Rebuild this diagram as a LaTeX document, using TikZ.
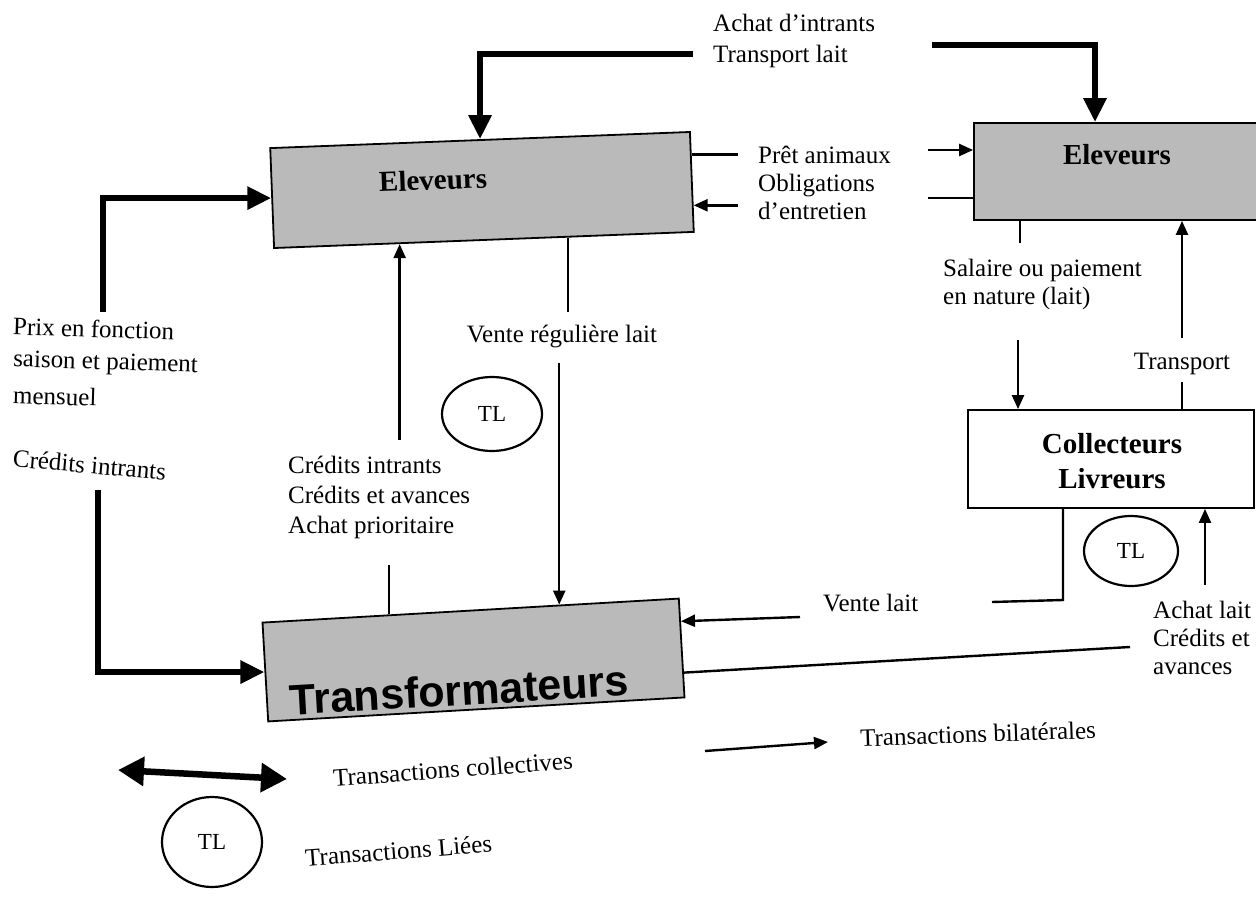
\documentclass[tikz,border=0pt]{standalone}
\usepackage{fontspec}
\setmainfont{Liberation Serif}
\newfontfamily\sansbold{Liberation Sans}
\usetikzlibrary{arrows.meta,calc,shapes.geometric}
\definecolor{boxgray}{RGB}{186,186,186}
\newcommand\labfont{\fontsize{25}{31}\selectfont}
\newcommand\labfontb{\fontsize{25}{28}\selectfont}
\newcommand\boxfont{\fontsize{29}{35}\selectfont\bfseries}
\begin{document}
\begin{tikzpicture}[x=1pt,y=1pt,
  conn/.style={line width=2.4pt},
  arr/.style={conn,-{Triangle[length=14pt,width=12pt]}},
  bigarr/.style={line width=6pt,-{Triangle[length=24pt,width=22pt]}},
  dblarr/.style={line width=6.5pt,{Triangle[length=26pt,width=28pt]}-{Triangle[length=26pt,width=28pt]}},
  box/.style={draw,line width=1.8pt,fill=boxgray,inner sep=0pt},
  lbl/.style={font=\labfont,align=left,inner sep=0pt},
  tl/.style={ellipse,draw,line width=2.2pt,inner sep=0pt,font=\fontsize{23}{26}\selectfont}
]
\useasboundingbox (0,-899) rectangle (1256,0);
\fill[white] (0,-899) rectangle (1256,0);

% boxes
\node[box,minimum width=420,minimum height=100,rotate=2.2] (E1) at (482,-190) {};
\node[font=\boxfont,rotate=2.2] (E1t) at (433,-180) {Eleveurs};
\node[box,minimum width=300,minimum height=97] (E2) at (1124,-171.5) {};
\node[font=\boxfont] (E2t) at (1117,-155) {Eleveurs};
\node[box,fill=white,minimum width=286,minimum height=98] (C) at (1111,-459) {};
\node[font=\boxfont,align=center] (Ct) at (1112,-461) {Collecteurs\\Livreurs};
\node[box,minimum width=417,minimum height=99,rotate=3.3] (T) at (473.5,-660) {};
\node[font=\fontsize{43}{48}\selectfont\sansbold\bfseries,rotate=3.3] (Tt) at (459,-690) {Transformateurs};

% TL ellipses
\node[tl,minimum width=100,minimum height=74] (TLm) at (492,-414) {TL};
\node[tl,minimum width=94,minimum height=70] (TLr) at (1131,-551) {TL};
\node[tl,minimum width=100,minimum height=90] (TLl) at (212,-842) {TL};

% labels
\node[lbl,anchor=north west] (Lachat) at (713,-14) {Achat d’intrants\\Transport lait};
\node[lbl,anchor=north west,font=\labfontb] (Lpret) at (758,-146) {Prêt animaux\\Obligations\\d’entretien};
\node[lbl,anchor=north west,font=\labfontb] (Lsal) at (943,-259) {Salaire ou paiement\\en nature (lait)};
\node[lbl] (Ltrans) at (1182,-364) {Transport};
\node[lbl,anchor=west] (Lvl) at (823,-603) {Vente lait};
\node[lbl,anchor=north west,font=\labfontb] (Lal) at (1153,-601) {Achat lait\\Crédits et\\avances};
\node[lbl,anchor=north west,font=\fontsize{25}{30}\selectfont] (Lcred) at (288,-456) {Crédits intrants\\Crédits et avances\\Achat prioritaire};
\node[lbl] (Lvrl) at (562,-337) {Vente régulière lait};
\node[lbl,anchor=west,rotate=-1.8] (Lprix1) at (13,-326) {Prix en fonction};
\node[lbl,anchor=west,rotate=-1.8] (Lprix2) at (13,-361) {saison et paiement};
\node[lbl,anchor=west,rotate=-1.8] (Lprix3) at (13,-395) {mensuel};
\node[lbl,anchor=west,rotate=-5] (Lci) at (13,-458) {Crédits intrants};
\node[lbl,anchor=west,rotate=4.2] (Lcol) at (333,-778) {Transactions collectives};
\node[lbl,anchor=west,rotate=2] (Lbil) at (860,-738) {Transactions bilatérales};
\node[lbl,anchor=west,rotate=4.5] (Llie) at (305,-858) {Transactions Liées};

% top thick arrows
\coordinate (tk1) at (693,-54);
\draw[bigarr] (tk1) -- (tk1 -| E1.north) -- (E1.north);
\coordinate (tk2) at (932,-45);
\coordinate (tk2c) at (1095,-45);
\draw[bigarr] (tk2) -- (tk2c) -- (tk2c |- E2.north);

% left thick arrows
\coordinate (lk1) at (103,-312);
\draw[bigarr] (lk1) -- (lk1 |- E1.west) -- (E1.west);
\coordinate (lk2) at (98,-490);
\draw[bigarr] (lk2) -- (lk2 |- T.west) -- (T.west);

% middle: credits
\coordinate (e1b1) at ($(E1.south west)!0.30!(E1.south east)$);
\coordinate (m1) at (e1b1 |- 0,-440);
\draw[arr] (m1) -- (e1b1);
\coordinate (t1) at ($(T.north west)!0.305!(T.north east)$);
\coordinate (m2) at (t1 |- 0,-565);
\draw[conn] (t1) -- (m2);

% vente reguliere
\coordinate (e1b2) at ($(E1.south west)!0.70!(E1.south east)$);
\coordinate (v1) at (e1b2 |- 0,-312);
\draw[conn] (e1b2) -- (v1);
\coordinate (t2) at ($(T.north west)!0.712!(T.north east)$);
\coordinate (v2) at (t2 |- 0,-363);
\draw[arr] (v2) -- (t2);

% pret / obligations
\coordinate (e1r1) at ($(E1.north east)!0.23!(E1.south east)$);
\coordinate (q1) at (e1r1 -| 738,0);
\draw[conn] (e1r1) -- (q1);
\coordinate (e1r2) at ($(E1.north east)!0.73!(E1.south east)$);
\coordinate (q2) at (e1r2 -| 738,0);
\draw[arr] (q2) -- (e1r2);
\coordinate (p1) at (928,-150);
\draw[arr] (p1) -- (p1 -| E2.west);
\coordinate (p2) at (928,-198);
\draw[conn] (p2) -- (p2 -| E2.west);

% salaire / transport
\coordinate (s1) at (1020,-243);
\draw[conn] (s1 |- E2.south) -- (s1);
\coordinate (s2) at (1018,-340);
\draw[arr] (s2) -- (s2 |- C.north);
\coordinate (tr1) at (1182,-338);
\draw[arr] (tr1) -- (tr1 |- E2.south);
\coordinate (tr2) at (1182,-382);
\draw[conn] (tr2 |- C.north) -- (tr2);

% collecteurs bottom
\coordinate (cb) at (1063,-600);
\coordinate (cb2) at (992,-602);
\draw[conn] (cb |- C.south) -- (cb) -- (cb2);
\coordinate (al) at (1205,-585);
\draw[arr] (al) -- (al |- C.south);

% vente lait and achat lait line
\coordinate (vl) at (800,-617);
\coordinate (tre1) at ($(T.north east)!0.235!(T.south east)$);
\draw[arr] (vl) -- (tre1);
\coordinate (tre2) at ($(T.north east)!0.745!(T.south east)$);
\coordinate (cr) at (1130,-647);
\draw[conn] (tre2) -- (cr);

% legend
\coordinate (lg1) at (118,-770);
\coordinate (lg2) at (287,-779);
\draw[dblarr] (lg1) -- (lg2);
\coordinate (lb1) at (705,-751);
\coordinate (lb2) at (828,-742);
\draw[arr] (lb1) -- (lb2);
\end{tikzpicture}
\end{document}
